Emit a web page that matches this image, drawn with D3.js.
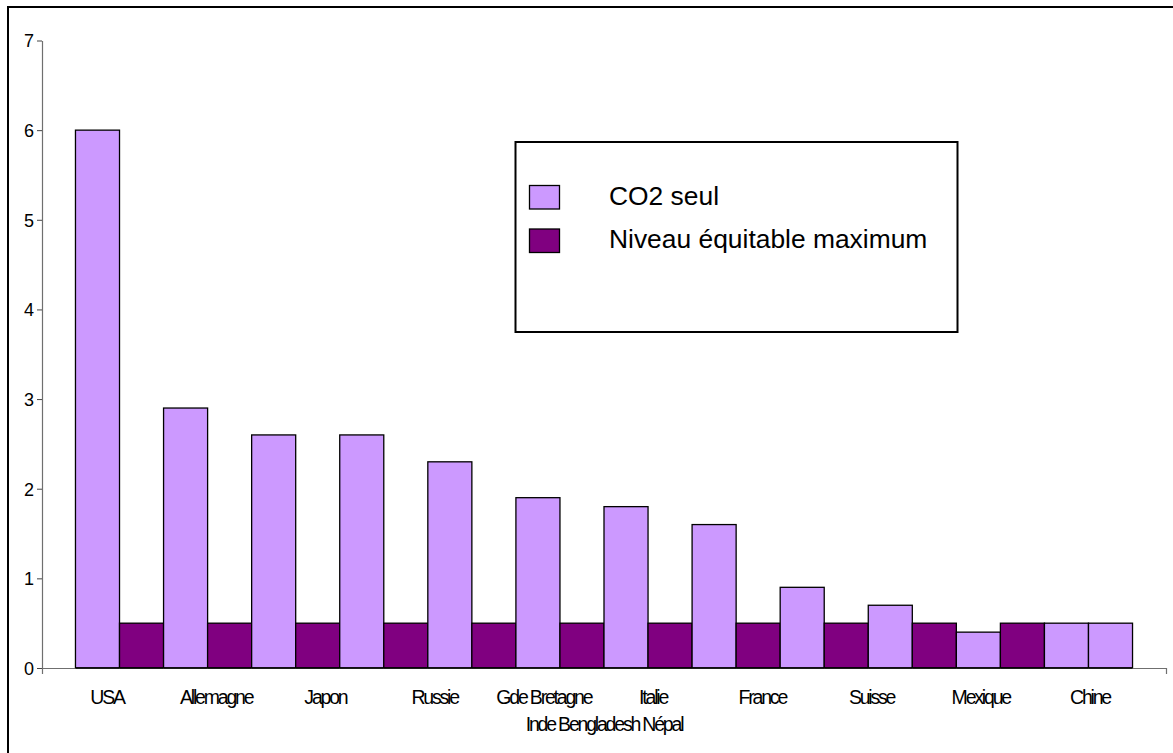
<!DOCTYPE html>
<html>
<head>
<meta charset="utf-8">
<script src="https://cdn.jsdelivr.net/npm/d3@7"></script>
<style>
  html, body { margin: 0; padding: 0; background: #fff; }
  svg { display: block; }
  .cat { font-family: "Liberation Sans", Arial, sans-serif; font-size: 19.5px; letter-spacing: -2.2px; fill: #000; }
  .ytick text { font-family: "Liberation Sans", Arial, sans-serif; font-size: 18px; fill: #000; }
  .legend text { font-family: "Liberation Sans", Arial, sans-serif; font-size: 26.4px; fill: #000; }
</style>
</head>
<body>
<svg id="chart" width="1173" height="753"></svg>
<script>
// Country labels under the axis, and the grouped label on the second line
const categories = ["USA", "Allemagne", "Japon", "Russie", "Gde Bretagne", "Italie", "France", "Suisse", "Mexique", "Chine"];
const secondLineLabel = "Inde Bengladesh Népal";

// Bars in drawing order, left to right, with the series each one belongs to
const barValues = [6.0, 0.5, 2.9, 0.5, 2.6, 0.5, 2.6, 0.5, 2.3, 0.5, 1.9, 0.5, 1.8, 0.5, 1.6, 0.5, 0.9, 0.5, 0.7, 0.5, 0.4, 0.5, 0.5, 0.5];
const barSeries = [0, 1, 0, 1, 0, 1, 0, 1, 0, 1, 0, 1, 0, 1, 0, 1, 0, 1, 0, 1, 0, 1, 0, 0];

// Series names and fills
const seriesNames = ["CO2 seul", "Niveau équitable maximum"];
const seriesColors = ["#cc99ff", "#800080"];

// Value axis ticks
const yTicks = [0, 1, 2, 3, 4, 5, 6, 7];

const svg = d3.select("#chart");
const plot = { left: 42, right: 1166, top: 40.5, bottom: 668 };

// Chart frame (runs past the right and bottom edges)
svg.append("rect")
  .attr("x", 8).attr("y", 7)
  .attr("width", 1180).attr("height", 760)
  .attr("fill", "#fff").attr("stroke", "#000").attr("stroke-width", 2);

const y = d3.scaleLinear().domain([0, 7]).range([plot.bottom, plot.top]);

const xBars = d3.scaleBand()
  .domain(d3.range(barValues.length))
  .range([plot.left, plot.right])
  .paddingInner(0)
  .paddingOuter(0.76);

// Label positions across the category axis
const xLabels = d3.scalePoint()
  .domain(categories)
  .range([plot.left + 65, plot.right - 76]);

// Bars
svg.append("g").selectAll("rect")
  .data(barValues.map((v, i) => ({ v, i, s: barSeries[i] })))
  .join("rect")
  .attr("x", d => xBars(d.i))
  .attr("y", d => y(d.v))
  .attr("width", xBars.bandwidth())
  .attr("height", d => y(0) - y(d.v))
  .attr("fill", d => seriesColors[d.s])
  .attr("stroke", "#000")
  .attr("stroke-width", 1.3);

// Value axis
const yAxis = svg.append("g")
  .attr("class", "ytick")
  .attr("transform", `translate(${plot.left},0)`)
  .call(d3.axisLeft(y).tickValues(yTicks).tickFormat(d3.format("d")).tickSize(5).tickSizeOuter(0).tickPadding(3));
yAxis.select(".domain").attr("stroke", "#6f6f6f").attr("stroke-width", 1.2);
yAxis.selectAll(".tick line").attr("stroke", "#444");
yAxis.selectAll(".tick text").attr("dy", "0.36em");

// Category axis line with end ticks
const xAxisScale = d3.scaleLinear().domain([0, 1]).range([plot.left, plot.right]);
const xAxis = svg.append("g")
  .attr("transform", `translate(0,${plot.bottom})`)
  .call(d3.axisBottom(xAxisScale).tickValues([]).tickSizeOuter(6));
xAxis.select(".domain").attr("stroke", "#6f6f6f").attr("stroke-width", 1.2);

// Bars sit over the axis line, so redraw their base edge
svg.append("g").selectAll("line")
  .data(d3.range(barValues.length))
  .join("line")
  .attr("x1", i => xBars(i)).attr("x2", i => xBars(i) + xBars.bandwidth())
  .attr("y1", plot.bottom).attr("y2", plot.bottom)
  .attr("stroke", "#000").attr("stroke-width", 1.3);

// Category labels
svg.append("g").selectAll("text")
  .data(categories)
  .join("text")
  .attr("class", "cat")
  .attr("x", d => xLabels(d))
  .attr("y", 704)
  .attr("text-anchor", "middle")
  .text(d => d);

svg.append("text")
  .attr("class", "cat")
  .attr("x", (plot.left + plot.right) / 2)
  .attr("y", 731)
  .attr("text-anchor", "middle")
  .text(secondLineLabel);

// Legend
const legend = svg.append("g").attr("class", "legend");
legend.append("rect")
  .attr("x", 515.5).attr("y", 142)
  .attr("width", 442).attr("height", 190)
  .attr("fill", "#fff").attr("stroke", "#000").attr("stroke-width", 2);

const legendRows = legend.selectAll("g.row")
  .data(seriesNames)
  .join("g")
  .attr("class", "row")
  .attr("transform", (d, i) => `translate(0,${i * 43.5})`);

legendRows.append("rect")
  .attr("x", 529.5).attr("y", 185.5)
  .attr("width", 30).attr("height", 23.5)
  .attr("fill", (d, i) => seriesColors[i])
  .attr("stroke", "#000").attr("stroke-width", 1.3);

legendRows.append("text")
  .attr("x", 609)
  .attr("y", 204.5)
  .text(d => d);
</script>
</body>
</html>
